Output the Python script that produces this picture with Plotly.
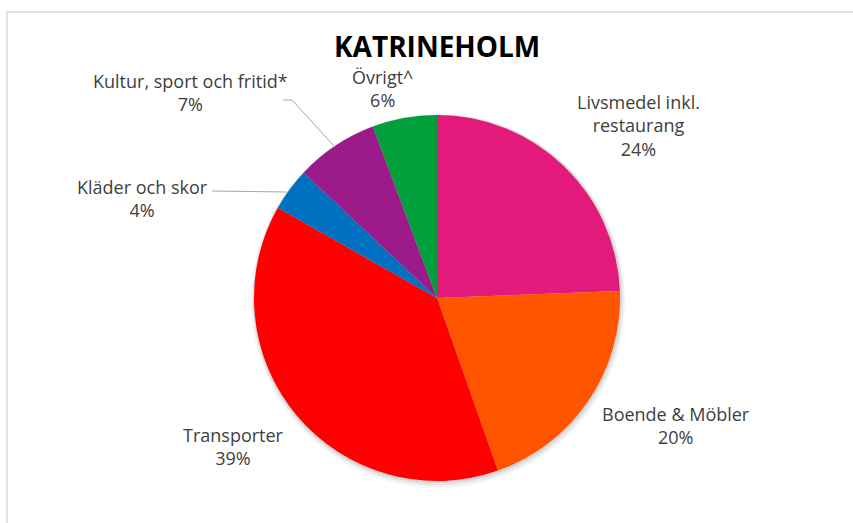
import plotly.graph_objects as go

categories = ["Livsmedel inkl. restaurang", "Boende & Möbler", "Transporter",
              "Kläder och skor", "Kultur, sport och fritid*", "Övrigt^"]
label_lines = ["Livsmedel inkl.<br>restaurang", "Boende & Möbler", "Transporter",
               "Kläder och skor", "Kultur, sport och fritid*", "Övrigt^"]
values = [24.4, 20.2, 38.6, 3.8, 7.3, 5.7]
colors = ["#E3197B", "#FF5500", "#FF0000", "#0070C0", "#9B1B8B", "#009F3C"]

W, H = 853, 523
cx, cy, r = 437, 298, 183

fig = go.Figure(go.Pie(
    labels=categories, values=values, sort=False, direction="clockwise",
    rotation=0, marker=dict(colors=colors, line=dict(width=0)),
    textinfo="none", hoverinfo="label+percent", showlegend=False,
    domain=dict(x=[(cx - r) / W, (cx + r) / W], y=[1 - (cy + r) / H, 1 - (cy - r) / H]),
))

# label block centers in pixels
label_pos = [(638, 125), (676, 425), (233, 446), (142, 199), (190, 93), (382, 88)]
total = sum(values)
annotations = []
for lab, v, (x, y) in zip(label_lines, values, label_pos):
    annotations.append(dict(
        x=x / W, y=1 - y / H, xref="paper", yref="paper",
        xanchor="center", yanchor="middle", align="center", showarrow=False,
        text=f"{lab}<br>{round(100 * v / total)}%",
        font=dict(family="Open Sans", size=18, color="#404040"),
    ))
annotations.append(dict(
    x=437 / W, y=1 - 46 / H, xref="paper", yref="paper", xanchor="center", yanchor="middle",
    showarrow=False, text="<b>KATRINEHOLM</b>",
    font=dict(family="Open Sans", size=28, color="#000000"),
))

def px(x, y):
    return x / W, 1 - y / H

shapes = [
    dict(type="rect", xref="paper", yref="paper", x0=7 / W, x1=1.05, y0=-0.05, y1=1 - 12 / H,
         line=dict(color="#D9D9D9", width=1.5), fillcolor="rgba(0,0,0,0)", layer="below"),
]
# soft shadow behind the pie
for grow, dx, dy, a in [(4, 1, 3, 0.04), (2.5, 1, 2, 0.06), (1.2, 0.5, 1, 0.08)]:
    shapes.append(dict(type="circle", xref="paper", yref="paper", layer="below",
                       x0=(cx - r - grow + dx) / W, x1=(cx + r + grow + dx) / W,
                       y0=1 - (cy + r + grow + dy) / H, y1=1 - (cy - r - grow + dy) / H,
                       line=dict(width=0), fillcolor=f"rgba(0,0,0,{a})"))
# leader lines
for pts in [[(283, 100), (292, 100), (335, 147)], [(212, 191), (287, 192)]]:
    path = "M " + " L ".join(f"{px(*p)[0]},{px(*p)[1]}" for p in pts)
    shapes.append(dict(type="path", xref="paper", yref="paper", path=path,
                       line=dict(color="#A6A6A6", width=1)))

fig.update_layout(
    width=W, height=H, margin=dict(l=0, r=0, t=0, b=0),
    paper_bgcolor="white", plot_bgcolor="white",
    annotations=annotations, shapes=shapes,
)
fig.write_html("out.html", config={"displayModeBar": False},
               post_script="document.body.style.margin='0px';document.body.style.overflow='hidden';")
